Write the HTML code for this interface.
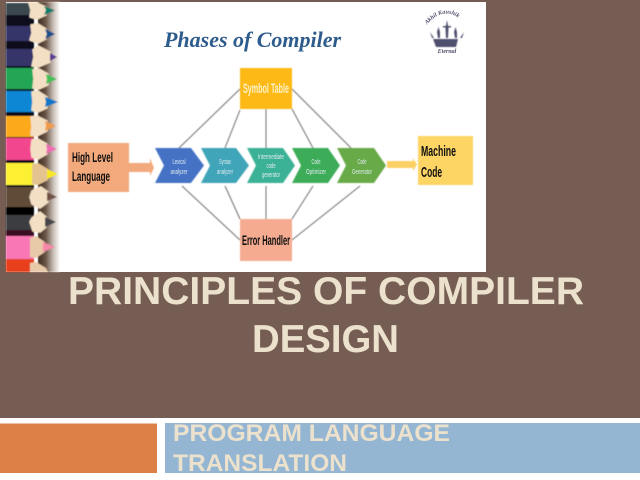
<!DOCTYPE html>
<html><head><meta charset="utf-8"><style>
html,body{margin:0;padding:0;width:640px;height:480px;overflow:hidden;background:#755d53}
svg{display:block}
</style></head><body>
<svg xmlns="http://www.w3.org/2000/svg" width="640" height="480" viewBox="0 0 640 480">
<defs>
<filter id="b" x="-5%" y="-5%" width="110%" height="110%"><feGaussianBlur stdDeviation="0.4"/></filter>
<filter id="t" x="-5%" y="-20%" width="110%" height="140%"><feGaussianBlur stdDeviation="0.3"/></filter>
<linearGradient id="sh" x1="0" x2="1" y1="0" y2="0">
<stop offset="0" stop-color="#3e2c20"/><stop offset=".35" stop-color="#6b5547"/><stop offset=".7" stop-color="#c9bfb7"/><stop offset="1" stop-color="#fff"/>
</linearGradient>
<path id="arc" d="M425 27Q446 0 468 27"/>
</defs>
<rect width="640" height="480" fill="#755d53"/>
<rect x="0" y="418" width="640" height="62" fill="#fff"/>
<rect x="0" y="423.500" width="157" height="49.500" fill="#dd8047"/>
<rect x="165" y="423" width="475" height="50" fill="#94b6d2"/>
<rect x="6" y="2" width="480" height="270" fill="#fff"/>
<g filter="url(#b)">
<rect x="38" y="2" width="22" height="270" fill="url(#sh)"/>
<rect x="6" y="3" width="28" height="269" fill="#0c0c1e"/>
<rect x="6" y="3" width="25" height="12" fill="#3b4a50"/>
<rect x="6" y="26" width="25" height="15" fill="#34356a"/>
<rect x="6" y="49" width="28" height="17" fill="#35346b"/>
<rect x="6" y="68" width="28" height="21" fill="#22a655"/>
<rect x="6" y="91" width="28" height="21" fill="#0b86d3"/>
<rect x="6" y="116" width="28" height="21" fill="#fca91f"/>
<rect x="6" y="138" width="28" height="22" fill="#f2468f"/>
<rect x="6" y="163" width="28" height="22" fill="#fdf030"/>
<rect x="6" y="187" width="28" height="20" fill="#5f4b38"/>
<rect x="6" y="207" width="28" height="8" fill="#050505"/>
<rect x="6" y="215" width="28" height="15" fill="#3a3c40"/>
<rect x="6" y="230" width="28" height="6" fill="#3a0b24"/>
<rect x="6" y="236" width="28" height="23" fill="#f877b4"/>
<rect x="6" y="259" width="28" height="13" fill="#e8401e"/>
<g fill="#f3dfc3" stroke="#f3dfc3" stroke-width="1.500" stroke-linejoin="round">
<path d="M29 3L37 3L46 7L46 15L37 19L30 17L31 10Z"/>
<path d="M31 25L38 24L46 29L46 39L38 43L30 40L32 33Z"/>
<path d="M33 50L38 46L50 52L50 62L38 67L32 66L34 57Z"/>
<path d="M33 70L39 69L48 74L48 85L39 89L33 88L34 79Z"/>
<path d="M32 92L38 91L47 97L47 108L38 112L32 110L33 102Z"/>
<path d="M31 117L37 116L47 121L47 131L37 136L31 135L32 126Z"/>
<path d="M32 140L38 139L47 144L47 154L38 159L32 157L31 149Z"/>
<path d="M36 189L41 187L48 192L48 202L40 208L32 204L30 197L32 191Z"/>
<path d="M35 216L40 212L46 217L46 227L40 232L33 231L30 222L32 218Z"/>
</g>
<path d="M32 164L38 163L48 169L48 180L38 185L32 184Z" fill="#e4c390"/>
<path d="M30 238L36 236L45 242L45 252L36 258L30 257Z" fill="#e8c9a8"/>
<path d="M30 263L36 262L46 268L48 272L30 272Z" fill="#e8c9a8"/>
<path d="M44 6L55 10.500L44 15L46 10Z" fill="#0f7f6c"/>
<path d="M45 29L55 34L45 39L47 34Z" fill="#1b4f8f"/>
<path d="M50 53L57 57L50 61Z" fill="#5a3a90"/>
<path d="M46 74L57 79L46 84L47 79Z" fill="#45c058"/>
<path d="M45 97L58 102L45 107L46 102Z" fill="#1177c9"/>
<path d="M45 121L56 126L45 131L46 126Z" fill="#f29a4a"/>
<path d="M46 144L57 149L46 154L47 149Z" fill="#ee6cb5"/>
<path d="M47 169L58 174L47 179Z" fill="#f7e820"/>
<path d="M47 192L57 197L47 201Z" fill="#6f5145"/>
<path d="M45 217L56 222L45 227Z" fill="#46464c"/>
<path d="M43 242L55 247L43 252Z" fill="#f788a8"/>
<g stroke="#6f6f6f" stroke-width="1" fill="none">
<path d="M240 89L179 148"/><path d="M240 110L225 148"/><path d="M266 109V148"/><path d="M292 109L313 148"/><path d="M292 89L351 148"/>
<path d="M182 186L240 240"/><path d="M225 186L240 219"/><path d="M266 186V219"/><path d="M313 186L292 219"/><path d="M360 186L292 240"/>
</g>
<rect x="68" y="143" width="61" height="49" fill="#f2a97c"/>
<path d="M129 163H150V158L154 168L150 176V172H129Z" fill="#f2a97c"/>
<path d="M155 148H191L204 165.500L191 183H155L164 165.500Z" fill="#4472c4"/>
<path d="M201 148H236L249 165.500L236 183H201L210 165.500Z" fill="#3fa5b8"/>
<path d="M247 148H283L295 165.500L283 183H247L256 165.500Z" fill="#3ab295"/>
<path d="M292 148H328L340 165.500L328 183H292L301 165.500Z" fill="#3dac58"/>
<path d="M337 148H374L386 165.500L374 183H337L346 165.500Z" fill="#67aa46"/>
<path d="M387 161H413V158L417 164.500L413 171V168H387Z" fill="#fdd065"/>
<rect x="418" y="136" width="55" height="49" fill="#fdd565"/>
<rect x="240" y="68" width="52" height="41" fill="#fdb913"/>
<rect x="240" y="219" width="52" height="42" fill="#f5ab90"/>
<g fill="#50506e">
<path d="M433 39H458L456 47H436Z"/>
<path d="M445.500 28L447 20L448.500 28L448 38H446Z"/><rect x="443" y="26" width="8" height="1.500"/>
<path d="M437 32L438.500 27L440 32L440 38H438Z"/><path d="M454 32L455.500 27L457 32L457 38H455Z"/>
<path d="M430 32L434 38H432Z"/><path d="M464 32L460 38H462Z"/>
</g>
</g>
<g font-family="'Liberation Sans',sans-serif" filter="url(#t)">
<g fill="#111" font-weight="bold">
<text x="72" y="162" font-size="14" textLength="41" lengthAdjust="spacingAndGlyphs">High Level</text>
<text x="72" y="181" font-size="14" textLength="38" lengthAdjust="spacingAndGlyphs">Language</text>
<text x="421" y="156" font-size="15" textLength="35" lengthAdjust="spacingAndGlyphs">Machine</text>
<text x="421" y="177" font-size="15" textLength="21" lengthAdjust="spacingAndGlyphs">Code</text>
<text x="242" y="245" font-size="13.500" textLength="48" lengthAdjust="spacingAndGlyphs">Error Handler</text>
</g>
<text x="243" y="93" fill="#fff3c8" font-weight="bold" font-size="14" textLength="46" lengthAdjust="spacingAndGlyphs">Symbol Table</text>
<g fill="#dfeaf0" font-size="7.500" text-anchor="middle">
<text x="179" y="164" textLength="13" lengthAdjust="spacingAndGlyphs">Lexical</text><text x="179" y="174" textLength="17" lengthAdjust="spacingAndGlyphs">analyzer</text>
<text x="225" y="164" textLength="12" lengthAdjust="spacingAndGlyphs">Syntax</text><text x="225" y="174" textLength="16" lengthAdjust="spacingAndGlyphs">analyzer</text>
<text x="271" y="159" textLength="26" lengthAdjust="spacingAndGlyphs">Intermediate</text><text x="271" y="168" textLength="9" lengthAdjust="spacingAndGlyphs">code</text><text x="271" y="177" textLength="18" lengthAdjust="spacingAndGlyphs">generator</text>
<text x="316" y="164" textLength="9" lengthAdjust="spacingAndGlyphs">Code</text><text x="316" y="174" textLength="20" lengthAdjust="spacingAndGlyphs">Optimizer</text>
<text x="362" y="164" textLength="9" lengthAdjust="spacingAndGlyphs">Code</text><text x="362" y="174" textLength="20" lengthAdjust="spacingAndGlyphs">Generator</text>
</g>
<text x="164" y="47" font-family="'Liberation Serif',serif" font-weight="bold" font-style="italic" font-size="22" fill="#2f5c8c" textLength="177">Phases of Compiler</text>
<g fill="#50506e" font-family="'Liberation Serif',serif" font-weight="bold" font-style="italic" font-size="6">
<text><textPath href="#arc" startOffset="3">Akhil Kaushik</textPath></text>
<text x="447" y="53" text-anchor="middle">Eternal</text>
</g>
</g>
<g font-family="'Liberation Sans',sans-serif" font-weight="bold" fill="#ebe1cd" filter="url(#t)">
<text x="68" y="304" font-size="39" textLength="516" lengthAdjust="spacingAndGlyphs">PRINCIPLES OF COMPILER</text>
<text x="252" y="352" font-size="39" textLength="147" lengthAdjust="spacingAndGlyphs">DESIGN</text>
<text x="173" y="441" font-size="24" textLength="277" lengthAdjust="spacingAndGlyphs">PROGRAM LANGUAGE</text>
<text x="173" y="471" font-size="24" textLength="174" lengthAdjust="spacingAndGlyphs">TRANSLATION</text>
</g>
</svg>
</body></html>
